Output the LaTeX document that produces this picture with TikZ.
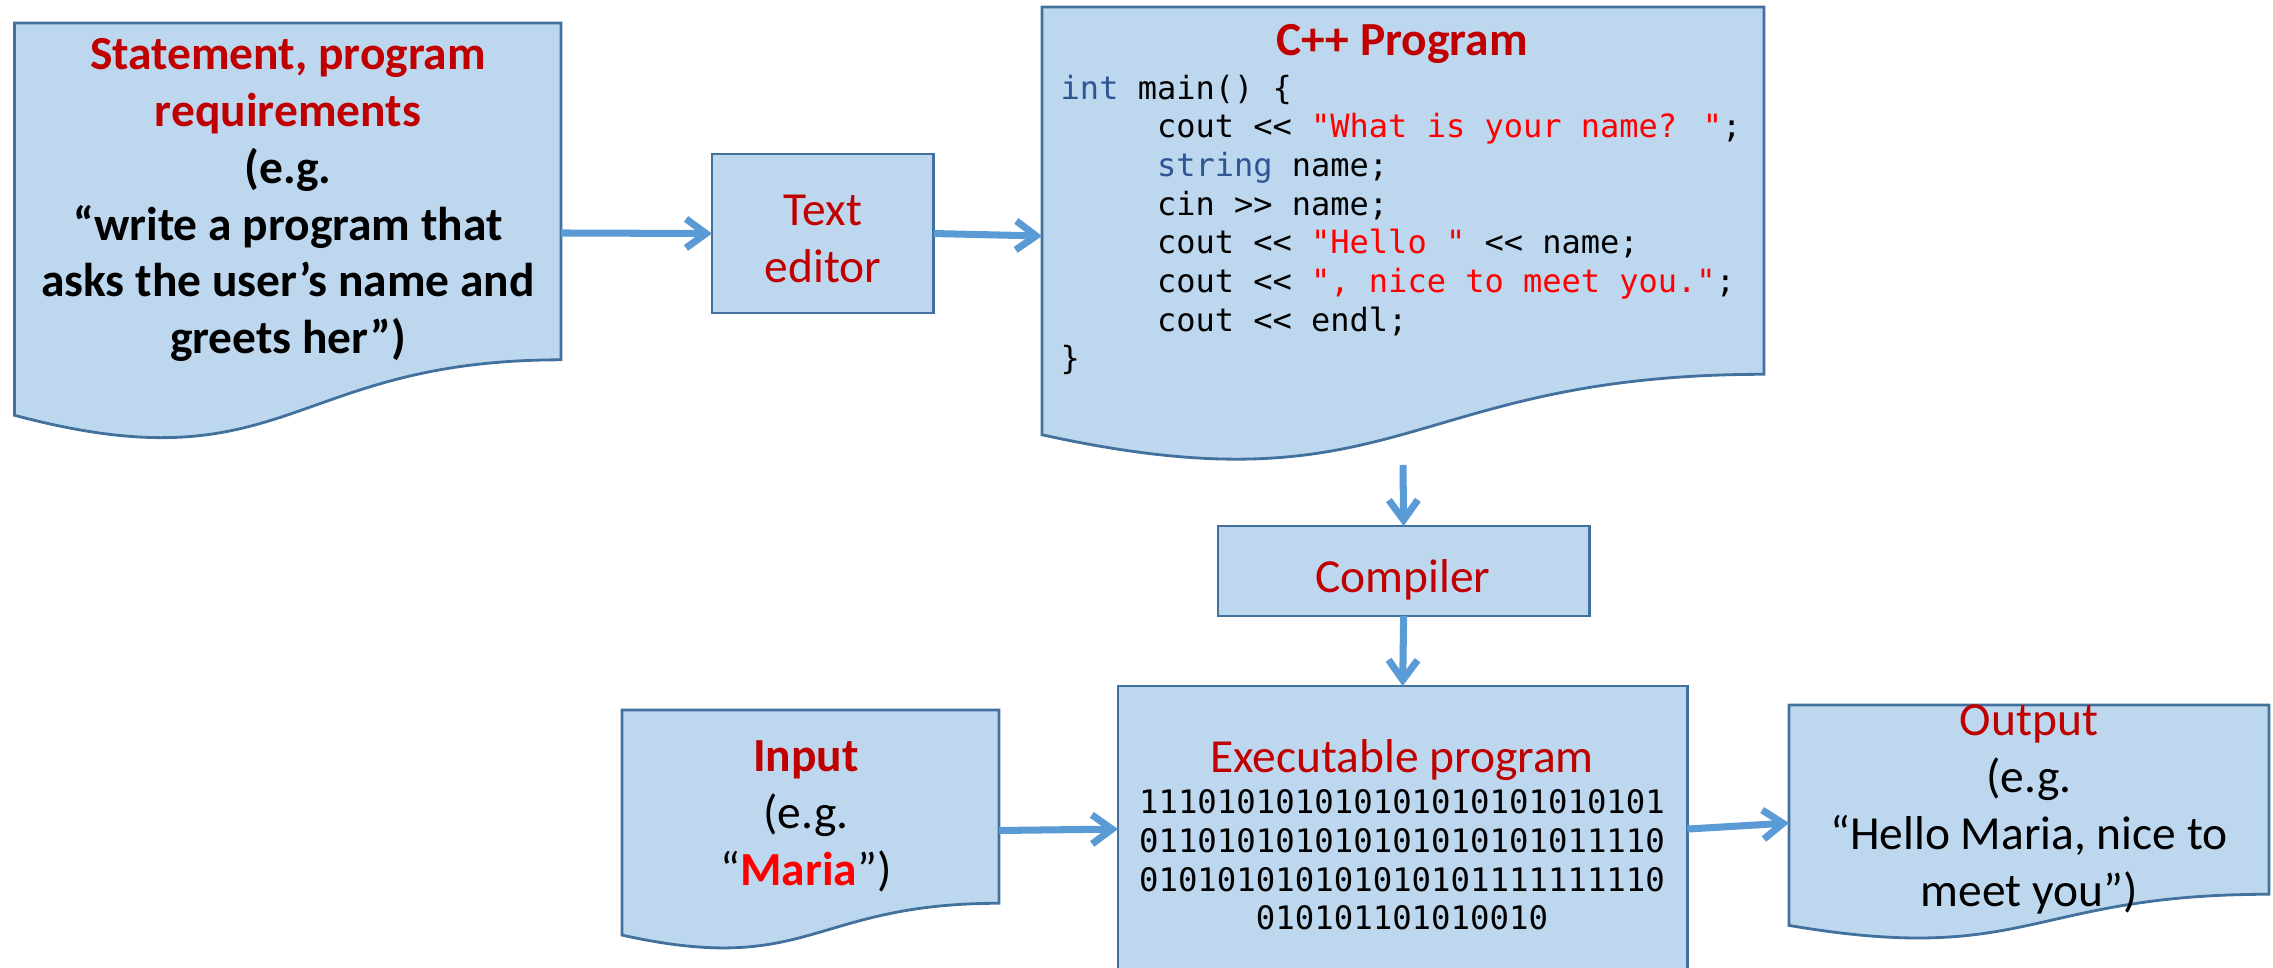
\documentclass[tikz,border=0pt]{standalone}
\usepackage{fontspec}
\setmainfont{Carlito}
\newfontfamily\codefont{DejaVu Sans Mono}
\usetikzlibrary{arrows.meta}
\definecolor{fillblue}{HTML}{BDD7EE}
\definecolor{edgeblue}{HTML}{41719C}
\definecolor{arrowblue}{HTML}{5B9BD5}
\definecolor{titlered}{HTML}{C00000}
\definecolor{strred}{HTML}{FF0000}
\definecolor{kwblue}{HTML}{2F5597}
\newcommand\mainsz{\fontsize{13.5}{16.2}\selectfont}
\newcommand\codesz{\fontsize{9.1}{11}\selectfont}
\newcommand\binsz{\fontsize{9.2}{11}\selectfont}
\newcommand\ltlt{<\kern0pt<}
\newcommand\gtgt{>\kern0pt>}
\newcommand\ind{\hphantom{00000}}
% document shape: name, x, y, w, h (pixel units)
\newcommand\docshape[5]{%
  \node[anchorbox, minimum width={#4*0.01cm}, minimum height={#5*0.01cm}, anchor=north west] (#1) at (#2,#3) {};
  \filldraw[docfill] (#2,#3) -- ({#2+#4},#3) -- ({#2+#4},{#3+0.802*#5})
    .. controls ({#2+0.5*#4},{#3+0.802*#5}) and ({#2+0.5*#4},{#3+1.1075*#5}) .. (#2,{#3+0.934*#5}) -- cycle;
}
\tikzset{
  anchorbox/.style={rectangle, inner sep=0pt, outer sep=0pt},
  docfill/.style={fill=fillblue, draw=edgeblue, line width=0.8pt},
  procbox/.style={rectangle, fill=fillblue, draw=edgeblue, line width=0.8pt, inner sep=0pt, outer sep=0pt, anchor=north west},
  flow/.style={draw=arrowblue, line width=2pt, -{Straight Barb[length=2mm,width=2.9mm]}},
  lbl/.style={align=center, font=\mainsz, inner sep=0pt},
  codetext/.style={align=left, font=\codefont\codesz, inner sep=0pt},
}
\begin{document}
\begin{tikzpicture}[x=0.01cm, y=-0.01cm]
\useasboundingbox (0,0) rectangle (2273,968);
% shapes
\docshape{stmt}{14.5}{23}{546.5}{420}
\docshape{cpp}{1042}{7}{722}{458}
\docshape{input}{622}{710}{377}{241}
\docshape{output}{1789}{705}{480}{236}
\node[procbox, minimum width=2.215cm, minimum height=1.59cm] (texted) at (712,154) {};
\node[procbox, minimum width=3.71cm, minimum height=0.9cm] (compiler) at (1218,526) {};
\node[procbox, minimum width=5.69cm, minimum height=2.86cm] (exec) at (1118,686) {};
% connectors
\draw[flow] (stmt.east) -- (texted.west);
\draw[flow] (texted.east) -- (cpp.west);
\draw[flow] (cpp.south) -- (compiler.north);
\draw[flow] (compiler.south) -- (exec.north);
\draw[flow] (input.east) -- (exec.west);
\draw[flow] (exec.east) -- (output.west);
% texts
\node[lbl, font=\mainsz\bfseries] (stmttext) at (288,200) {\textcolor{titlered}{Statement, program}\\ \textcolor{titlered}{requirements}\\ (e.g.\\ “write a program that\\ asks the user’s name and\\ greets her”)};
\node[lbl, text=titlered] (tetext) at (823,239) {Text\\editor};
\node[lbl, text=titlered] (comptext) at (1403,580) {Compiler};
\node[lbl, font=\mainsz\bfseries, text=titlered] (cpptitle) at (1402,44) {C++ Program};
\node[codetext, anchor=north west] (code) at (1060,74) {%
\textcolor{kwblue}{int} main() \{\\
\ind cout \ltlt{} \textcolor{strred}{"What is your name? "};\\
\ind\textcolor{kwblue}{string} name;\\
\ind cin \gtgt{} name;\\
\ind cout \ltlt{} \textcolor{strred}{"Hello "} \ltlt{} name;\\
\ind cout \ltlt{} \textcolor{strred}{", nice to meet you."};\\
\ind cout \ltlt{} endl;\\
\}};
\node[lbl, text=titlered] (exectitle) at (1402,760) {Executable program};
\node[codetext, align=center, font=\codefont\binsz] (binary) at (1402,860) {111010101010101010101010101\\011010101010101010101011110\\010101010101010101111111110\\010101101010010};
\node[lbl] (inputtext) at (806,816) {\textcolor{titlered}{\bfseries Input}\\ (e.g.\\ “\textcolor{strred}{\bfseries Maria}”)};
\node[lbl] (outputtext) at (2029,809) {\textcolor{titlered}{Output}\\ (e.g.\\ “Hello Maria, nice to\\ meet you”)};
\end{tikzpicture}
\end{document}
